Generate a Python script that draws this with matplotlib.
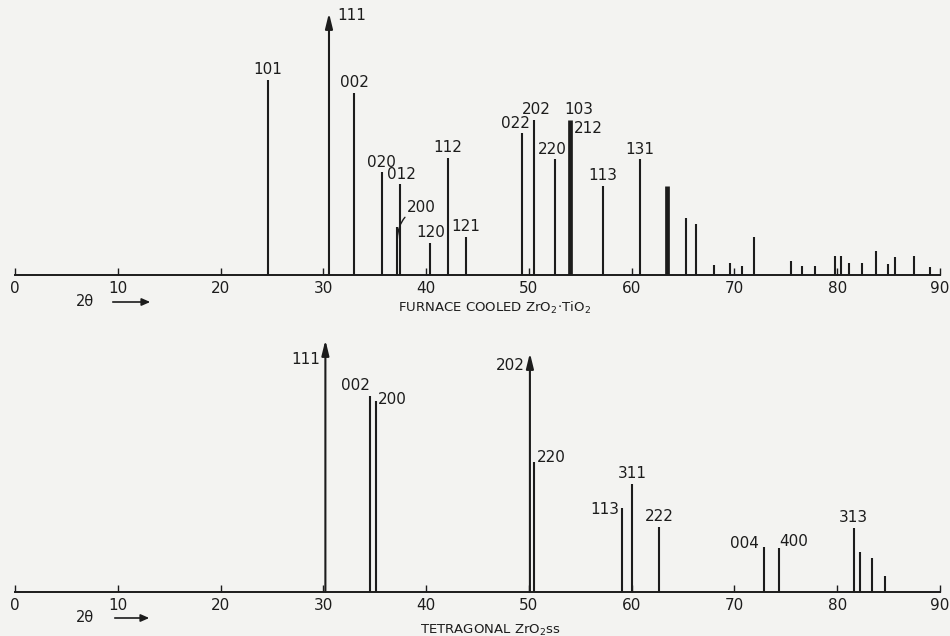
import matplotlib
matplotlib.use("Agg")
import matplotlib.pyplot as plt
from matplotlib.patches import FancyArrowPatch

# ---------------- data ----------------
# Top pattern: furnace cooled ZrO2.TiO2  (2-theta, relative intensity)
top_2theta = [24.6, 30.55, 33.0, 35.7, 37.2, 37.5, 40.4, 42.15, 43.9, 49.3, 50.5,
              52.5, 54.0, 57.2, 60.8, 63.4, 65.3, 66.3, 68.0, 69.55, 70.75, 71.9,
              75.55, 76.6, 77.8, 79.8, 80.35, 81.15, 82.4, 83.8, 84.9, 85.6, 87.5, 89.0]
top_intensity = [195, 262, 182, 103, 48, 91, 32, 117, 38, 142, 155,
                 116, 155, 89, 116, 89, 57, 51, 10, 12, 9, 38,
                 14, 9, 9, 19, 19, 12, 12, 24, 11, 18, 19, 8]
top_offscale = [30.55]           # peaks drawn with an arrow (off scale)
top_doubled = [54.0, 63.4]       # overlapping reflections (heavy line)
top_hkl = ["101", "111", "002", "020", "200", "012", "120", "112", "121",
           "022", "202", "220", "103", "212", "113", "131"]
top_hkl_peak = [24.6, 30.55, 33.0, 35.7, 37.2, 37.5, 40.4, 42.15, 43.9,
                49.3, 50.5, 52.5, 54.0, 54.0, 57.2, 60.8]

# Bottom pattern: tetragonal ZrO2 ss
bot_2theta = [30.2, 34.5, 35.1, 50.1, 50.5, 59.1, 60.05, 62.7, 72.9, 74.35,
              81.6, 82.2, 83.4, 84.65]
bot_intensity = [252, 196, 191, 239, 130, 84, 108, 65, 45, 44, 64, 40, 34, 16]
bot_offscale = [30.2, 50.1]
bot_hkl = ["111", "002", "200", "202", "220", "113", "311", "222", "004", "400", "313"]
bot_hkl_peak = [30.2, 34.5, 35.1, 50.1, 50.5, 59.1, 60.05, 62.7, 72.9, 74.35, 81.6]

x_ticks = [0, 10, 20, 30, 40, 50, 60, 70, 80, 90]

top_title = r"FURNACE COOLED ZrO$_2\!\cdot\!$TiO$_2$"
bot_title = r"TETRAGONAL ZrO$_2$ss"
axis_name = "2θ"

# ---------------- styling ----------------
BG = "#f3f3f1"
INK = "#1c1c1c"
W, H = 950, 636
FS = 11

# label placement: (dx_px, dy_px, ha, va)
top_lab_style = {
    "101": (0, 3, "center", "bottom"),
    "111": (8, -3, "left", "center"),
    "002": (0, 3, "center", "bottom"),
    "020": (0, 2, "center", "bottom"),
    "200": None,
    "012": (1, 2, "center", "bottom"),
    "120": (1, 3, "center", "bottom"),
    "112": (0, 3, "center", "bottom"),
    "121": (0, 3, "center", "bottom"),
    "022": (-6, 2, "center", "bottom"),
    "202": (2, 3, "center", "bottom"),
    "220": (-2, 2, "center", "bottom"),
    "103": (9, 3, "center", "bottom"),
    "212": (4, -1, "left", "top"),
    "113": (0, 3, "center", "bottom"),
    "131": (0, 2, "center", "bottom"),
}
bot_lab_style = {
    "111": (-5, -20, "right", "center"),
    "002": (0, 3, "right", "bottom"),
    "200": (2, 2, "left", "center"),
    "202": (-5, -13, "right", "center"),
    "220": (3, 4, "left", "center"),
    "113": (-3, -2, "right", "center"),
    "311": (0, 3, "center", "bottom"),
    "222": (0, 3, "center", "bottom"),
    "004": (-5, 4, "right", "center"),
    "400": (0, 6, "left", "center"),
    "313": (0, 3, "center", "bottom"),
}

plt.rcParams["font.family"] = ["DejaVu Sans"]
plt.rcParams["mathtext.fontset"] = "dejavusans"

fig = plt.figure(figsize=(W / 100, H / 100), dpi=100, facecolor=BG)


def fx(px):
    return px / W


def fy(py):
    return 1 - py / H


def make_axes(baseline_px, ymax):
    ax = fig.add_axes([fx(15), fy(baseline_px), fx(925), ymax / H])
    ax.set_xlim(0, 90)
    ax.set_ylim(0, ymax)
    ax.set_facecolor("none")
    for s in ["top", "left", "right"]:
        ax.spines[s].set_visible(False)
    ax.spines["bottom"].set_linewidth(1.4)
    ax.spines["bottom"].set_color(INK)
    ax.set_yticks([])
    ax.set_xticks(x_ticks)
    ax.set_xticklabels([str(t) for t in x_ticks])
    ax.tick_params(axis="x", direction="in", length=5, width=1.0, color=INK,
                   labelsize=FS, labelcolor=INK, pad=4)
    return ax


def draw_pattern(ax, xs, ys, offscale, doubled):
    for x, y in zip(xs, ys):
        if x in offscale:
            ax.annotate("", xy=(x, y), xytext=(x, 0),
                        arrowprops=dict(arrowstyle="-|>,head_length=0.9,head_width=0.22",
                                        lw=1.5, color=INK, shrinkA=0, shrinkB=0),
                        annotation_clip=False)
        else:
            lw = 3.4 if x in doubled else 1.5
            ax.vlines(x, 0, y, color=INK, lw=lw)


def label_peaks(ax, labels, peaks, xs, ys, style):
    for lab, p in zip(labels, peaks):
        st = style.get(lab)
        if st is None:
            continue
        y = ys[xs.index(p)]
        dx, dy, ha, va = st
        ax.annotate(lab, xy=(p, y), xytext=(dx * 0.72, dy * 0.72),
                    textcoords="offset points", ha=ha, va=va,
                    fontsize=FS, color=INK, annotation_clip=False)


# ---- top panel ----
ax1 = make_axes(275, 275)
draw_pattern(ax1, top_2theta, top_intensity, top_offscale, top_doubled)
label_peaks(ax1, top_hkl, top_hkl_peak, top_2theta, top_intensity, top_lab_style)
# 200 with curved leader
p200 = top_hkl_peak[top_hkl.index("200")]
y200 = top_intensity[top_2theta.index(p200)]
ax1.annotate("200", xy=(p200, y200 - 12), xytext=(24 * 0.72, 32 * 0.72),
             textcoords="offset points", ha="center", va="center",
             fontsize=FS, color=INK,
             arrowprops=dict(arrowstyle="-", lw=1.0, color=INK,
                             connectionstyle="arc3,rad=0.35",
                             shrinkA=0, shrinkB=0))

# ---- bottom panel ----
ax2 = make_axes(592, 260)
draw_pattern(ax2, bot_2theta, bot_intensity, bot_offscale, [])
label_peaks(ax2, bot_hkl, bot_hkl_peak, bot_2theta, bot_intensity, bot_lab_style)

# ---- captions ----
for yc, x0, x1 in [(302, 110, 153), (618, 112, 152)]:
    fig.text(fx(76), fy(yc), axis_name, ha="left", va="center", fontsize=FS - 0.5, color=INK)
    fig.add_artist(FancyArrowPatch((fx(x0), fy(yc)), (fx(x1), fy(yc)),
                                   transform=fig.transFigure,
                                   arrowstyle="-|>,head_length=5,head_width=2.2",
                                   lw=1.2, color=INK))

fig.text(fx(398), fy(308), top_title, ha="left", va="center", fontsize=FS - 1.5, color=INK)
fig.text(fx(420), fy(630), bot_title, ha="left", va="center", fontsize=FS - 1.5, color=INK)

fig.savefig("out.png", dpi=100, facecolor=BG)
